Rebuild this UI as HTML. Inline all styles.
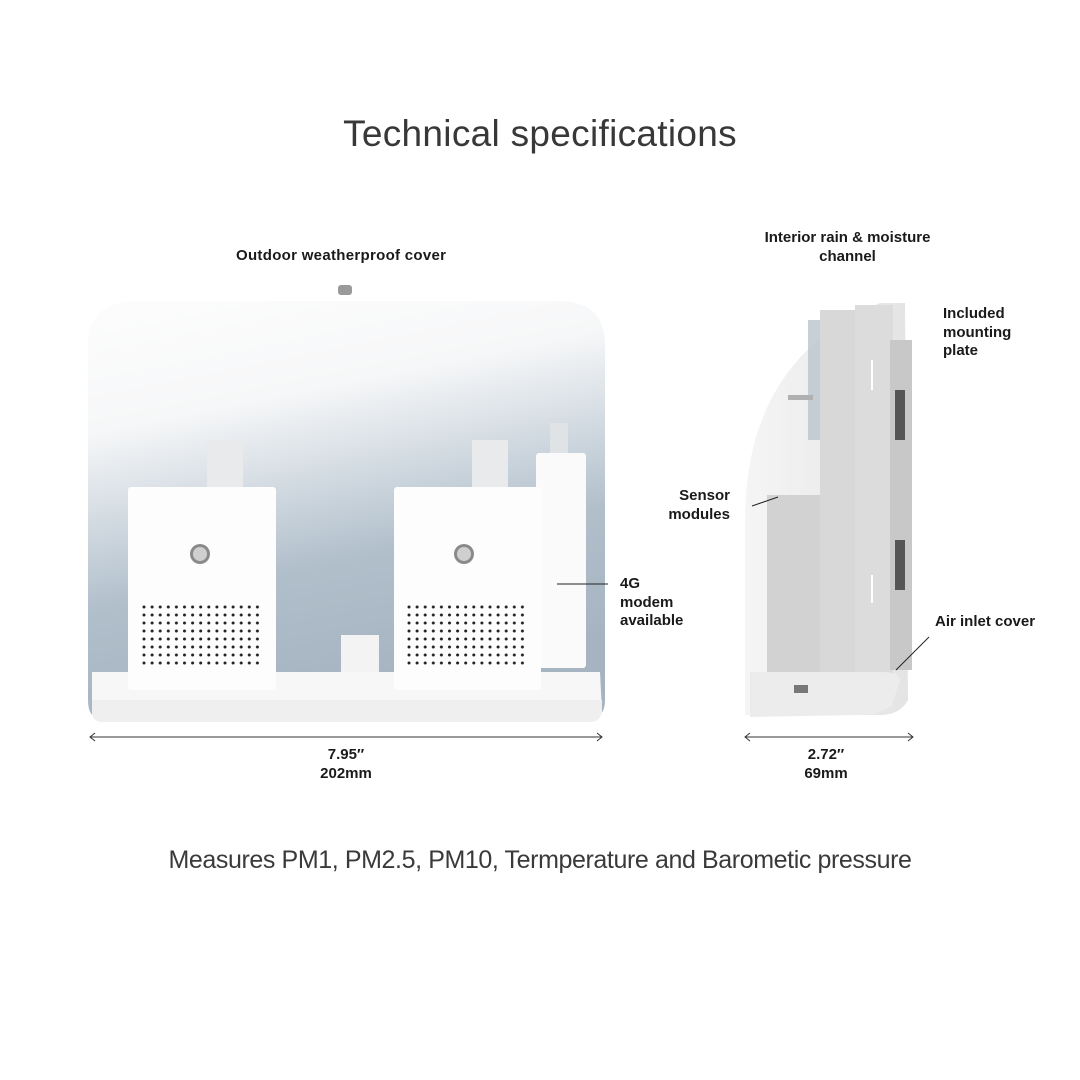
<!DOCTYPE html>
<html><head><meta charset="utf-8"><style>
body{margin:0;width:1080px;height:1080px;background:#fff;position:relative;overflow:hidden;font-family:"Liberation Sans",sans-serif;}
.t{position:absolute;color:#1a1a1a;font-weight:bold;font-size:15px;line-height:18.5px;}
.c{text-align:center}
</style></head><body>
<div style="position:absolute;left:0;width:1080px;top:113px;text-align:center;font-size:37px;color:#383838;letter-spacing:0.3px">Technical specifications</div>
<div class="t" style="left:236px;top:247px;letter-spacing:0.3px">Outdoor weatherproof cover</div>
<div class="t c" style="left:730px;width:235px;top:229px">Interior rain &amp; moisture<br>channel</div>
<div class="t" style="left:943px;top:305px">Included<br>mounting<br>plate</div>
<div class="t" style="left:660px;top:487px;text-align:right;width:70px">Sensor<br>modules</div>
<div class="t" style="left:620px;top:575px">4G<br>modem<br>available</div>
<div class="t" style="left:935px;top:613px">Air inlet cover</div>
<div class="t c" style="left:246px;width:200px;top:746px">7.95″<br>202mm</div>
<div class="t c" style="left:726px;width:200px;top:746px">2.72″<br>69mm</div>
<div style="position:absolute;left:0;width:1080px;top:846px;text-align:center;font-size:25px;color:#3a3a3a;letter-spacing:-0.4px">Measures PM1, PM2.5, PM10, Termperature and Barometic pressure</div>

<svg width="1080" height="1080" style="position:absolute;left:0;top:0">
<defs>
<linearGradient id="fg" x1="0" y1="0" x2="0.25" y2="1">
<stop offset="0" stop-color="#fdfdfd"/><stop offset="0.3" stop-color="#f6f7f8"/><stop offset="0.5" stop-color="#d3dbe2"/><stop offset="0.7" stop-color="#b1bfcb"/><stop offset="1" stop-color="#a6b4c2"/></linearGradient>
<linearGradient id="sg" x1="0" y1="0" x2="1" y2="0"><stop offset="0" stop-color="#f5f5f5"/><stop offset="1" stop-color="#e4e4e4"/></linearGradient>
<pattern id="dots" x="142" y="605" width="8.1" height="8" patternUnits="userSpaceOnUse"><circle cx="2" cy="2" r="1.5" fill="#222"/></pattern>
<pattern id="dots2" x="407" y="605" width="8.1" height="8" patternUnits="userSpaceOnUse"><circle cx="2" cy="2" r="1.5" fill="#222"/></pattern>
</defs>
<rect x="338" y="285" width="14" height="10" rx="3" fill="#9a9a9a"/>
<path d="M88 345 Q88 302 135 301 L560 301 Q605 302 605 345 L605 700 Q605 718 590 718 L100 718 Q88 718 88 700Z" fill="url(#fg)"/>
<rect x="207" y="440" width="36" height="50" fill="#e8eaec"/>
<rect x="472" y="440" width="36" height="50" fill="#e8eaec"/>
<rect x="550" y="423" width="18" height="40" fill="#dfe3e6"/>
<rect x="536" y="453" width="50" height="215" rx="3" fill="#fafafa"/>
<rect x="341" y="635" width="38" height="40" fill="#f3f3f3"/>
<path d="M92 672 L600 672 L602 712 Q600 722 590 722 L100 722 Q92 720 92 712Z" fill="#f7f7f7"/>
<path d="M92 700 L602 700 L602 712 Q600 722 590 722 L100 722 Q92 720 92 712Z" fill="#efefef"/>
<rect x="128" y="487" width="148" height="203" rx="3" fill="#fdfdfd"/>
<rect x="394" y="487" width="147" height="203" rx="3" fill="#fdfdfd"/>
<rect x="140" y="604" width="122" height="64" fill="url(#dots)"/>
<rect x="405" y="604" width="122" height="64" fill="url(#dots2)"/>
<circle cx="200" cy="554" r="10" fill="#8a8a8a"/><circle cx="200" cy="554" r="7" fill="#cfcfcf"/>
<circle cx="464" cy="554" r="10" fill="#8a8a8a"/><circle cx="464" cy="554" r="7" fill="#cfcfcf"/>
<line x1="557" y1="584" x2="608" y2="584" stroke="#222" stroke-width="1"/>
<line x1="90" y1="737" x2="602" y2="737" stroke="#333" stroke-width="1"/>
<path d="M95 733 L90 737 L95 741 M597 733 L602 737 L597 741" stroke="#333" fill="none"/>
<!-- side device -->
<path d="M745 715 L745 520 Q745 360 880 303 L905 303 L908 700 Q900 715 880 715Z" fill="url(#sg)"/>
<path d="M808 320 L808 440 L820 440 L820 320Z" fill="#b9c4cd" opacity="0.8"/>
<rect x="820" y="310" width="55" height="380" fill="#d8d8d8"/>
<rect x="855" y="305" width="38" height="390" fill="#dcdcdc"/>
<rect x="767" y="495" width="53" height="190" fill="#d2d2d2"/>
<rect x="788" y="395" width="25" height="5" fill="#b0b0b0"/>
<rect x="890" y="340" width="22" height="330" fill="#c8c8c8"/>
<rect x="895" y="390" width="10" height="50" fill="#555"/>
<rect x="895" y="540" width="10" height="50" fill="#555"/>
<rect x="871" y="360" width="2" height="30" fill="#fff"/>
<rect x="871" y="575" width="2" height="28" fill="#fff"/>
<path d="M750 672 L880 672 Q900 672 900 680 L892 705 Q880 715 860 715 L750 717Z" fill="#ececec"/>
<rect x="794" y="685" width="14" height="8" fill="#777"/>
<line x1="752" y1="506" x2="778" y2="497" stroke="#222"/>
<line x1="896" y1="670" x2="929" y2="637" stroke="#222"/>
<line x1="745" y1="737" x2="913" y2="737" stroke="#333"/>
<path d="M750 733 L745 737 L750 741 M908 733 L913 737 L908 741" stroke="#333" fill="none"/>
</svg>
</body></html>
